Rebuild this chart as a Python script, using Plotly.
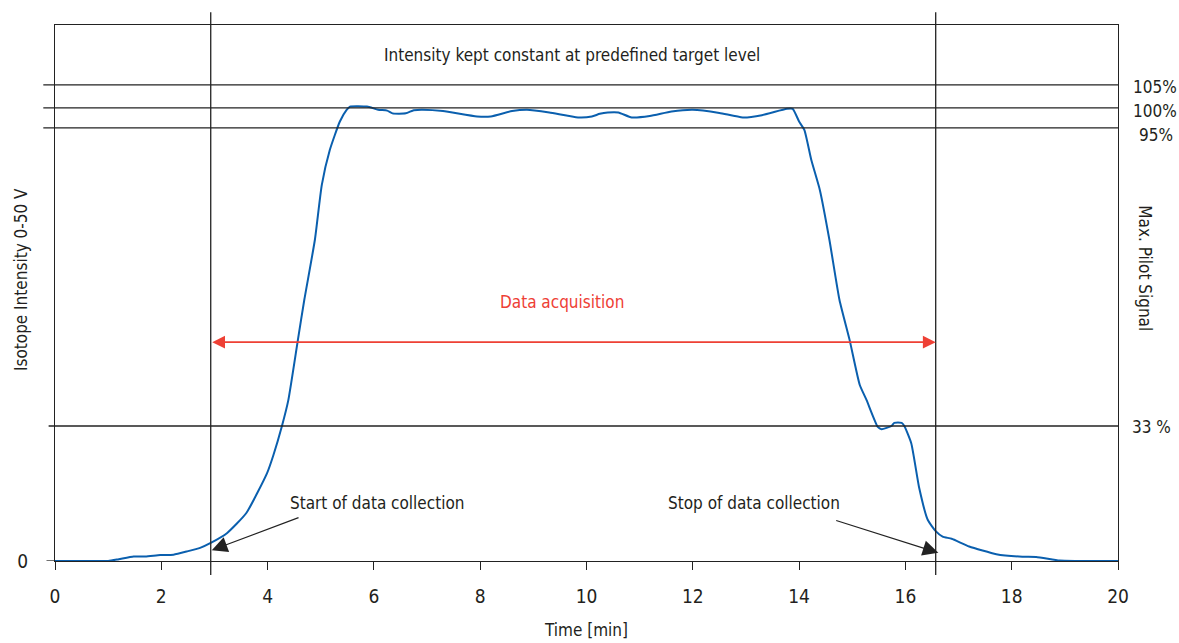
import plotly.graph_objects as go

# ---- data (time in minutes, intensity in % of target level) ----
time_min = [0, 0.5, 1.0, 1.2, 1.48, 1.7, 1.98, 2.23, 2.48, 2.73, 2.93, 3.24, 3.6, 3.99, 4.11,
            4.27, 4.39, 4.57, 4.69, 4.89, 5.02, 5.17, 5.36, 5.49, 5.55, 5.87, 6.08, 6.25, 6.35,
            6.6, 6.75, 6.92, 7.3, 7.94, 8.2, 8.6, 8.88, 9.3, 9.84, 10.1, 10.25, 10.4, 10.6,
            10.85, 11.19, 11.6, 12.0, 12.5, 12.94, 13.3, 13.77, 13.88, 14.0, 14.1, 14.23,
            14.39, 14.57, 14.76, 14.95, 15.14, 15.27, 15.48, 15.55, 15.74, 15.79, 15.93, 15.98,
            16.11, 16.26, 16.42, 16.57, 16.7, 16.87, 17.2, 17.71, 18.2, 18.46, 18.9, 19.2, 20]
intensity = [0, 0, 0, 0.4, 1.0, 1.0, 1.3, 1.4, 2.1, 2.9, 4.0, 6.2, 10.6, 19.4, 23.4,
             29.8, 35.5, 48.8, 57.6, 70.9, 83.0, 90.7, 97.0, 99.6, 100.3, 100.3, 99.6, 99.4, 98.8,
             98.8, 99.5, 99.6, 99.3, 98.1, 98.1, 99.3, 99.6, 99.0, 97.9, 98.1, 98.7, 99.0, 99.0,
             97.9, 98.2, 99.2, 99.6, 98.9, 97.9, 98.4, 99.8, 99.8, 97.0, 95.1, 88.5,
             81.9, 70.9, 57.6, 48.8, 38.9, 35.5, 29.6, 29.1, 29.8, 30.5, 30.5, 29.8,
             26.0, 16.1, 9.1, 6.6, 5.4, 4.9, 3.2, 1.5, 0.95, 0.9, 0.1, 0, 0]

x_ticks = [0, 2, 4, 6, 8, 10, 12, 14, 16, 18, 20]
level_values = [105.1, 100.0, 95.6, 29.8]
level_labels = ["105%", "100%", "95%", "33 %"]
collection_bounds = [2.93, 16.57]   # start / stop of data collection (min)
y_max = 118.3

FONT = "Liberation Sans Narrow, DejaVu Sans Condensed, Arial Narrow, sans-serif"
TXT = "#231f20"
BLUE = "#0a5fae"
RED = "#ee4035"
FS = 17

fig = go.Figure()
fig.add_trace(go.Scatter(x=time_min, y=intensity, mode="lines",
                         line=dict(color=BLUE, width=2, shape="spline", smoothing=0.5),
                         hoverinfo="skip", showlegend=False))

shapes = []
# reference level lines (extend slightly left of the frame)
left_ext = [-0.011, -0.011, -0.011, -0.006]
for v, ext in zip(level_values, left_ext):
    shapes.append(dict(type="line", xref="paper", yref="y", x0=ext, x1=1, y0=v, y1=v,
                       line=dict(color="#222", width=1.3), layer="above"))
# vertical lines of data collection, extending beyond the frame
for b in collection_bounds:
    shapes.append(dict(type="line", xref="x", yref="paper", x0=b, x1=b, y0=-0.026, y1=1.024,
                       line=dict(color="#222", width=1.3), layer="above"))
# baseline extension to the left
shapes.append(dict(type="line", xref="paper", yref="y", x0=-0.008, x1=0, y0=0, y1=0,
                   line=dict(color="#222", width=1.3)))

annotations = []
label_pos = {"105%": (1.0122, "left", -2), "100%": (1.0122, "left", -3),
             "95%": (1.0535, "right", -7), "33 %": (1.0115, "left", -1)}
for v, lab in zip(level_values, level_labels):
    xa, anc, dy = label_pos[lab]
    annotations.append(dict(x=xa, y=v, xref="paper", yref="y", text=lab, showarrow=False,
                            xanchor=anc, yshift=dy,
                            font=dict(family=FONT, size=FS, color=TXT)))

annotations += [
    dict(x=9.72, y=111.7, xref="x", yref="y", text="Intensity kept constant at predefined target level",
         showarrow=False, font=dict(family=FONT, size=FS, color=TXT)),
    dict(x=9.54, y=57.2, xref="x", yref="y", text="Data acquisition",
         showarrow=False, font=dict(family=FONT, size=FS, color=RED)),
    dict(x=collection_bounds[1], y=48.3, ax=collection_bounds[0], ay=48.3, xref="x", yref="y",
         axref="x", ayref="y", text="", showarrow=True, arrowhead=2, startarrowhead=2,
         arrowside="end+start", arrowcolor=RED, arrowwidth=1.6, arrowsize=1.6, startarrowsize=1.6),
    dict(x=6.06, y=12.8, xref="x", yref="y", text="Start of data collection",
         showarrow=False, font=dict(family=FONT, size=FS, color=TXT)),
    dict(x=13.15, y=12.8, xref="x", yref="y", text="Stop of data collection",
         showarrow=False, font=dict(family=FONT, size=FS, color=TXT)),
    dict(x=2.95, y=2.4, ax=4.61, ay=9.7, xref="x", yref="y", axref="x", ayref="y", text="",
         showarrow=True, arrowhead=2, arrowcolor="#222", arrowwidth=1.2, arrowsize=2.6),
    dict(x=16.62, y=1.8, ax=14.67, ay=9.05, xref="x", yref="y", axref="x", ayref="y", text="",
         showarrow=True, arrowhead=2, arrowcolor="#222", arrowwidth=1.2, arrowsize=2.6),
    dict(x=-0.032, y=0.526, xref="paper", yref="paper", text="Isotope Intensity 0-50 V",
         textangle=-90, showarrow=False, xanchor="center", yanchor="middle",
         font=dict(family=FONT, size=FS, color=TXT)),
    dict(x=1.0254, y=0.546, xref="paper", yref="paper", text="Max. Pilot Signal",
         textangle=90, showarrow=False, xanchor="center", yanchor="middle",
         font=dict(family=FONT, size=FS, color=TXT)),
]

fig.update_layout(
    width=1179, height=643,
    margin=dict(l=55, r=61, t=25, b=82, autoexpand=False),
    paper_bgcolor="white", plot_bgcolor="white",
    shapes=shapes, annotations=annotations,
    font=dict(family=FONT, size=FS, color=TXT),
    xaxis=dict(range=[0, 20], tickvals=x_ticks, ticks="outside", ticklen=8, tickwidth=1.3,
               tickcolor="#222", showgrid=False, zeroline=False, showline=True, linecolor="#222",
               linewidth=1.3, mirror=True, ticklabelstandoff=10, automargin=False,
               tickfont=dict(family=FONT, size=19, color=TXT),
               title=dict(text="Time [min]", standoff=18, font=dict(family=FONT, size=FS, color=TXT))),
    yaxis=dict(range=[0, y_max], tickvals=[0], ticktext=["0"], ticks="", showgrid=False,
               zeroline=False, showline=True, linecolor="#222", linewidth=1.3, mirror=True,
               ticklabelstandoff=22, automargin=False, tickfont=dict(family=FONT, size=19, color=TXT)),
)

fig.write_html("out.html")
